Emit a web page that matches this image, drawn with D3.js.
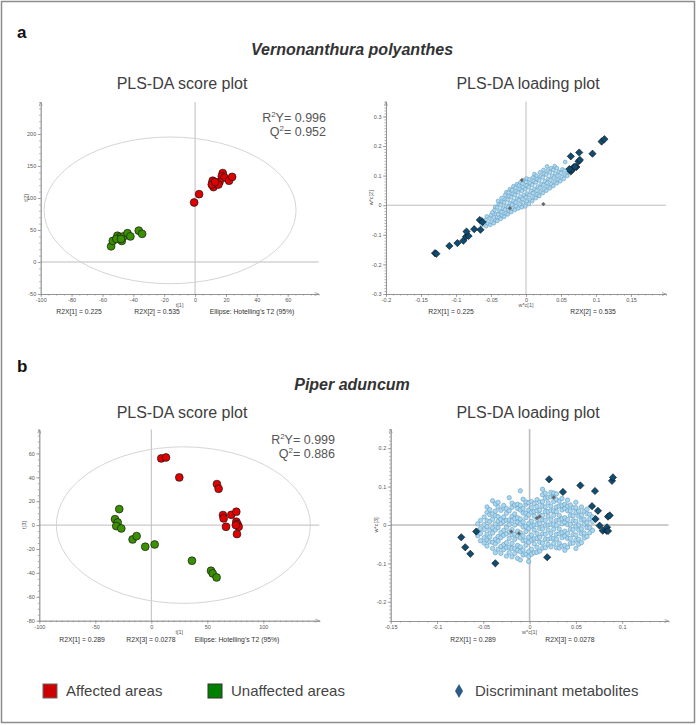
<!DOCTYPE html>
<html>
<head>
<meta charset="utf-8">
<script src="https://cdn.jsdelivr.net/npm/d3@7"></script>
<style>
  body { margin: 0; background: #fff; }
  svg { display: block; }
  text { font-family: "Liberation Sans", Arial, sans-serif; }
</style>
</head>
<body>
<div id="chart"></div>
<script>
// ---- panel a: Vernonanthura polyanthes ----
const affectedA = [[-0.6,93],[2.6,106],[11.2,123],[11.9,117],[11.4,127],[17.9,139],[17.3,134],[19,132],
  [15.8,125],[15.1,121],[22,127],[24,133],[10.8,121],[13,125]]
const unaffectedA = [[-54.4,24.5],[-53.3,33],[-50.3,41],[-48.6,39],[-47.5,33],[-46.4,40],[-43.8,45],
  [-41.9,40],[-36.5,49],[-34.3,44],[-51,36],[-48,36]]
const ellipseA = [-16.2, 80.7, 81.6, 114.6] // cx, cy, rx, ry in score units
const statsA = ['0.996', '0.952']
const r2xScoreA = ['R2X[1] = 0.225', 'R2X[2] = 0.535', "Ellipse: Hotelling's T2 (95%)"]
const r2xLoadA = ['R2X[1] = 0.225', 'R2X[2] = 0.535']

const metabolitesA = [
  [-0.063,-0.066],[-0.061,-0.056],[-0.064,-0.047],
  [-0.057,-0.071],[-0.055,-0.061],[-0.058,-0.05],[-0.056,-0.038],
  [-0.051,-0.066],[-0.049,-0.056],[-0.052,-0.045],[-0.05,-0.034],[-0.048,-0.024],
  [-0.046,-0.061],[-0.044,-0.05],[-0.046,-0.041],[-0.043,-0.03],[-0.045,-0.016],[-0.044,-0.006],
  [-0.041,-0.053],[-0.039,-0.041],[-0.04,-0.031],[-0.038,-0.019],[-0.041,-0.007],[-0.039,0.004],[-0.04,0.014],
  [-0.036,-0.046],[-0.034,-0.035],[-0.035,-0.023],[-0.033,-0.011],[-0.036,0.001],[-0.034,0.012],[-0.035,0.024],
  [-0.031,-0.039],[-0.029,-0.027],[-0.03,-0.015],[-0.028,-0.003],[-0.031,0.009],[-0.029,0.021],[-0.03,0.034],[-0.028,0.044],
  [-0.026,-0.031],[-0.024,-0.019],[-0.025,-0.006],[-0.023,0.007],[-0.026,0.019],[-0.024,0.031],[-0.025,0.043],[-0.023,0.054],
  [-0.021,-0.023],[-0.019,-0.011],[-0.02,0.002],[-0.018,0.014],[-0.021,0.027],[-0.019,0.039],[-0.02,0.051],[-0.018,0.064],
  [-0.016,-0.016],[-0.014,-0.003],[-0.015,0.009],[-0.013,0.023],[-0.016,0.035],[-0.014,0.047],[-0.015,0.059],[-0.013,0.071],
  [-0.011,-0.011],[-0.009,0.003],[-0.01,0.017],[-0.008,0.029],[-0.011,0.043],[-0.009,0.055],[-0.01,0.067],[-0.008,0.077],
  [-0.006,-0.007],[-0.004,0.009],[-0.005,0.021],[-0.003,0.035],[-0.006,0.049],[-0.004,0.061],[-0.005,0.073],[-0.003,0.085],
  [-0.001,-0.004],[0.001,0.013],[0,0.027],[0.002,0.039],[-0.001,0.054],[0.001,0.067],[0,0.079],[0.001,0.09],
  [0.004,0.004],[0.006,0.019],[0.005,0.034],[0.007,0.049],[0.004,0.061],[0.006,0.074],[0.005,0.087],
  [0.009,0.014],[0.011,0.027],[0.01,0.041],[0.012,0.055],[0.009,0.069],[0.011,0.081],[0.01,0.094],[0.012,0.105],
  [0.014,0.024],[0.016,0.037],[0.015,0.049],[0.017,0.063],[0.014,0.077],[0.016,0.089],[0.015,0.1],
  [0.019,0.031],[0.021,0.045],[0.02,0.059],[0.022,0.071],[0.019,0.084],[0.021,0.097],[0.02,0.111],
  [0.024,0.041],[0.026,0.055],[0.025,0.069],[0.027,0.081],[0.024,0.094],[0.026,0.107],[0.025,0.119],
  [0.029,0.049],[0.031,0.063],[0.03,0.075],[0.032,0.089],[0.029,0.103],[0.031,0.117],[0.03,0.131],
  [0.034,0.057],[0.036,0.071],[0.035,0.085],[0.037,0.099],[0.034,0.111],[0.036,0.125],
  [0.039,0.065],[0.041,0.079],[0.04,0.093],[0.042,0.107],[0.039,0.119],[0.041,0.132],
  [0.044,0.074],[0.046,0.087],[0.045,0.099],[0.047,0.113],[0.044,0.125],
  [0.049,0.081],[0.051,0.095],[0.05,0.109],[0.052,0.121],
  [0.054,0.089],[0.056,0.103],[0.055,0.117],[0.056,0.146],
  [0.059,0.099],[0.061,0.111]
]
const discriminantA = [[-0.130,-0.162],[-0.128,-0.164],[-0.1095,-0.1375],[-0.098,-0.128],[-0.0895,-0.12],
  [-0.0857,-0.106],[-0.082,-0.104],[-0.085,-0.089],[-0.074,-0.081],[-0.065,-0.083],[-0.066,-0.05],[-0.062,-0.057],
  [0.064,0.165],[0.076,0.178],[0.064,0.114],[0.068,0.128],[0.066,0.12],[0.072,0.129],[0.075,0.148],
  [0.077,0.153],[0.095,0.174],[0.108,0.215],[0.112,0.223],[0.062,0.122],[0.07,0.13]]
const otherA = [[0.0248,0.004],[-0.006,0.085],[-0.023,-0.01]]

// ---- panel b: Piper aduncum ----
const affectedB = [[8.9,55.8],[13.1,56.6],[25,39.9],[58.6,34.3],[60.1,30.4],[64,8.4],[64.6,5.6],[66.7,-1.4],
  [71.4,8.6],[75.9,11.2],[75.9,2.8],[77,0.8],[78,-1.4],[76.5,-7.5],[75.5,0]]
const unaffectedB = [[-28.6,13.4],[-32.4,5],[-30,2.2],[-31.3,-0.8],[-26.8,-2.8],[-16.7,-12],[-13.1,-9.2],
  [-5.4,-18.1],[3,-16.2],[36.3,-29.8],[53.3,-38.2],[54.8,-40.4],[58.3,-43.8]]
const ellipseB = [28.6, 0, 113.4, 65.5]
const statsB = ['0.999', '0.886']
const r2xScoreB = ['R2X[1] = 0.289', 'R2X[3] = 0.0278', "Ellipse: Hotelling's T2 (95%)"]
const r2xLoadB = ['R2X[1] = 0.289', 'R2X[3] = 0.0278']

// loading columns: [w*c[1], list of w*c[3] values]
const metabolitesB = [
  [-0.056,[-0.028,-0.015,0.003]],
  [-0.053,[-0.041,-0.022,-0.009,0.012]],
  [-0.049,[-0.047,-0.033,-0.012,0.001,0.021]],
  [-0.046,[-0.055,-0.039,-0.024,-0.004,0.011,0.033,0.047]],
  [-0.043,[-0.044,-0.031,-0.013,0.009,0.027,0.04]],
  [-0.04,[-0.061,-0.045,-0.021,-0.008,0.015,0.029,0.063]],
  [-0.037,[-0.072,-0.049,-0.037,-0.013,0.003,0.024,0.036,0.055]],
  [-0.034,[-0.063,-0.042,-0.03,-0.007,0.01,0.022,0.047,0.059]],
  [-0.031,[-0.074,-0.056,-0.033,-0.02,0.004,0.015,0.038]],
  [-0.028,[-0.064,-0.051,-0.027,-0.014,0.009,0.021,0.044,0.051]],
  [-0.025,[-0.081,-0.059,-0.046,-0.023,-0.006,0.012,0.031,0.043]],
  [-0.022,[-0.072,-0.058,-0.035,-0.018,0.001,0.013,0.037,0.071]],
  [-0.019,[-0.083,-0.061,-0.048,-0.025,-0.012,0.011,0.023,0.046,0.057]],
  [-0.016,[-0.074,-0.061,-0.037,-0.024,0,0.017,0.029,0.052]],
  [-0.013,[-0.087,-0.066,-0.053,-0.029,-0.016,0.007,0.019,0.043,0.054]],
  [-0.01,[-0.091,-0.069,-0.057,-0.033,-0.02,0.003,0.016,0.039,0.051,0.089]],
  [-0.007,[-0.078,-0.065,-0.041,-0.028,-0.005,0.008,0.031,0.043,0.067]],
  [-0.004,[-0.076,-0.053,-0.04,-0.017,-0.004,0.019,0.031,0.054,0.06]],
  [-0.001,[-0.095,-0.082,-0.069,-0.045,-0.032,-0.009,0.004,0.027,0.039,0.058]],
  [0.002,[-0.076,-0.063,-0.039,-0.026,-0.003,0.01,0.033,0.045,0.061]],
  [0.005,[-0.072,-0.049,-0.036,-0.013,0,0.023,0.035,0.056]],
  [0.008,[-0.071,-0.058,-0.035,-0.022,0.001,0.014,0.037,0.048,0.066]],
  [0.011,[-0.068,-0.045,-0.032,-0.009,0.004,0.027,0.039,0.06]],
  [0.014,[-0.06,-0.047,-0.023,-0.01,0.013,0.025,0.049,0.061,0.079,0.093]],
  [0.017,[-0.059,-0.037,-0.024,-0.001,0.012,0.035,0.047,0.07,0.083]],
  [0.02,[-0.05,-0.037,-0.013,0,0.023,0.035,0.058,0.072]],
  [0.023,[-0.057,-0.035,-0.022,0.001,0.014,0.037,0.049,0.073,0.085]],
  [0.026,[-0.048,-0.035,-0.011,0.002,0.025,0.037,0.061,0.074,0.083]],
  [0.029,[-0.059,-0.037,-0.024,-0.001,0.012,0.035,0.047,0.066,0.081]],
  [0.032,[-0.06,-0.047,-0.023,-0.01,0.013,0.025,0.049,0.062]],
  [0.035,[-0.055,-0.033,-0.02,0.003,0.016,0.039,0.051,0.069]],
  [0.038,[-0.066,-0.053,-0.029,-0.016,0.007,0.019,0.043,0.054]],
  [0.041,[-0.058,-0.035,-0.022,0.001,0.014,0.037,0.049,0.065]],
  [0.044,[-0.048,-0.035,-0.011,0.002,0.025,0.037,0.052]],
  [0.047,[-0.047,-0.025,-0.012,0.011,0.024,0.045]],
  [0.05,[-0.061,-0.039,-0.026,-0.003,0.01,0.033,0.045,0.059]],
  [0.053,[-0.05,-0.037,-0.013,0,0.023,0.036]],
  [0.056,[-0.046,-0.023,-0.01,0.013,0.026,0.047]],
  [0.059,[-0.034,-0.021,0.002,0.015,0.036]],
  [0.062,[-0.03,-0.007,0.006,0.029,0.041]],
  [0.065,[-0.02,-0.007,0.016,0.028]],
  [0.068,[-0.014,0.009,0.021]]
]
const discriminantB = [[-0.0738,-0.032],[-0.0695,-0.058],[-0.064,-0.075],[-0.0576,-0.017],[-0.037,-0.0997],
  [0.019,-0.084],[0.021,0.119],[0.036,0.086],[0.0548,0.103],[0.0706,0.0885],[0.0674,0.049],[0.0738,0.037],
  [0.0713,0.0156],[0.0756,-0.0017],[0.079,-0.0147],[0.083,-0.0147],[0.0836,-0.006],[0.0847,0.0217],
  [0.0865,0.025],[0.0847,-0.0156],[0.089,0.115],[0.09,0.124]]
const otherB = [[0.0108,0.0217],[0.008,0.018],[-0.0115,-0.022],[-0.0198,-0.017],[0.026,0.072]]

// tick labels
const scoreTicksAx = [-100, -80, -60, -40, -20, 0, 20, 40, 60]
const scoreTicksAy = [-50, 0, 50, 100, 150, 200]
const loadTicksAx = [-0.2, -0.15, -0.1, -0.05, 0, 0.05, 0.1, 0.15]
const loadTicksAy = [-0.3, -0.2, -0.1, 0, 0.1, 0.2, 0.3]
const scoreTicksBx = [-100, -50, 0, 50, 100]
const scoreTicksBy = [-80, -60, -40, -20, 0, 20, 40, 60]
const loadTicksBx = [-0.15, -0.1, -0.05, 0, 0.05, 0.1]
const loadTicksBy = [-0.2, -0.1, 0, 0.1, 0.2]

const legendItems = ['Affected areas', 'Unaffected areas', 'Discriminant metabolites']

const RED = '#e00000', GREEN = '#3a9000', LIGHT = '#a9d8f1', DARK = '#0d4c73'

const svg = d3.select('#chart').append('svg')
  .attr('width', 697)
  .attr('height', 725)

svg.append('rect')
  .attr('x', 1.5).attr('y', 1.5).attr('width', 693).attr('height', 721)
  .attr('fill', '#fff').attr('stroke', '#8c8c8c').attr('stroke-width', 1.5)

function drawAxes(g, x, y, cfg) {
  const [xl, xr] = x.range()
  const [yb, yt] = y.range()
  const fmt = d => String(d)

  // zero lines
  g.append('line').attr('x1', x(0)).attr('x2', x(0)).attr('y1', yt).attr('y2', yb)
    .attr('stroke', '#bdbdbd').attr('stroke-width', cfg.zeroWidth || 1)
  g.append('line').attr('x1', xl).attr('x2', xr).attr('y1', y(0)).attr('y2', y(0))
    .attr('stroke', '#bdbdbd').attr('stroke-width', cfg.zeroWidth || 1)

  const minorX = g.append('g').attr('transform', `translate(0,${yb})`)
    .call(d3.axisBottom(x).tickValues(x.ticks(cfg.minorX)).tickSize(1.5).tickSizeOuter(0).tickFormat(''))
  const minorY = g.append('g').attr('transform', `translate(${xl},0)`)
    .call(d3.axisLeft(y).tickValues(y.ticks(cfg.minorY)).tickSize(1.5).tickSizeOuter(0).tickFormat(''))
  const ax = g.append('g').attr('transform', `translate(0,${yb})`)
    .call(d3.axisBottom(x).tickValues(cfg.xTicks).tickSize(3).tickSizeOuter(0).tickPadding(1).tickFormat(fmt))
  const ay = g.append('g').attr('transform', `translate(${xl},0)`)
    .call(d3.axisLeft(y).tickValues(cfg.yTicks).tickSize(3).tickSizeOuter(0).tickPadding(1.5).tickFormat(fmt))

  for (const a of [minorX, minorY, ax, ay]) {
    a.selectAll('path, line').attr('stroke', '#8a8a8a').attr('stroke-width', 0.7)
    a.selectAll('text').attr('font-size', 5.5).attr('fill', '#555')
      .attr('font-family', '"Liberation Sans", Arial, sans-serif')
  }

  // small arrow heads at the axis ends
  g.append('path').attr('d', `M${xr - 4},${yb - 1.5}L${xr},${yb}L${xr - 4},${yb + 1.5}`)
    .attr('fill', 'none').attr('stroke', '#8a8a8a').attr('stroke-width', 0.7)
  g.append('path').attr('d', `M${xl - 1.5},${yt + 4}L${xl},${yt}L${xl + 1.5},${yt + 4}`)
    .attr('fill', 'none').attr('stroke', '#8a8a8a').attr('stroke-width', 0.7)

  g.append('text').attr('x', (xl + xr) / 2).attr('y', yb + 13)
    .attr('text-anchor', 'middle').attr('font-size', 5.5).attr('fill', '#555').text(cfg.xLabel)
  g.append('text')
    .attr('transform', `translate(${xl - 13},${(yb + yt) / 2}) rotate(-90)`)
    .attr('text-anchor', 'middle').attr('font-size', 5.5).attr('fill', '#555').text(cfg.yLabel)
}

function footer(g, items, xs, yPos) {
  items.forEach((t, i) => {
    g.append('text').attr('x', xs[i]).attr('y', yPos).attr('text-anchor', 'middle')
      .attr('font-size', 6.8).attr('fill', '#333').text(t)
  })
}

function scorePlot(cfg) {
  const g = svg.append('g')
  const x = d3.scaleLinear().domain(cfg.xDomain).range([cfg.left, cfg.right])
  const y = d3.scaleLinear().domain(cfg.yDomain).range([cfg.bottom, cfg.top])
  drawAxes(g, x, y, cfg)

  const [cx, cy, rx, ry] = cfg.ellipse
  g.append('ellipse')
    .attr('cx', x(cx)).attr('cy', y(cy))
    .attr('rx', x(cx + rx) - x(cx)).attr('ry', y(cy) - y(cy + ry))
    .attr('fill', 'none').attr('stroke', '#cacaca').attr('stroke-width', 0.8)

  const groups = [[cfg.unaffected, GREEN], [cfg.affected, RED]]
  for (const [data, col] of groups) {
    g.append('g').selectAll('circle')
      .data(data)
      .enter().append('circle')
        .attr('cx', d => x(d[0]))
        .attr('cy', d => y(d[1]))
        .attr('r', 3.9)
        .attr('fill', col)
        .attr('stroke', '#1a1a1a')
        .attr('stroke-width', 0.7)
  }

  const st = g.append('text').attr('x', cfg.statX).attr('y', cfg.statY)
    .attr('text-anchor', 'end').attr('font-size', 12.5).attr('fill', '#555')
  st.append('tspan').text('R')
  st.append('tspan').attr('font-size', 8).attr('dy', -4.5).text('2')
  st.append('tspan').attr('dy', 4.5).text('Y= ' + cfg.stats[0])
  const sq = g.append('text').attr('x', cfg.statX).attr('y', cfg.statY + 14)
    .attr('text-anchor', 'end').attr('font-size', 12.5).attr('fill', '#555')
  sq.append('tspan').text('Q')
  sq.append('tspan').attr('font-size', 8).attr('dy', -4.5).text('2')
  sq.append('tspan').attr('dy', 4.5).text('= ' + cfg.stats[1])

  footer(g, cfg.footer, cfg.footerX, cfg.footerY)
}

function loadingPlot(cfg) {
  const g = svg.append('g')
  const x = d3.scaleLinear().domain(cfg.xDomain).range([cfg.left, cfg.right])
  const y = d3.scaleLinear().domain(cfg.yDomain).range([cfg.bottom, cfg.top])
  drawAxes(g, x, y, cfg)

  g.append('g').selectAll('circle')
    .data(cfg.metabolites)
    .enter().append('circle')
      .attr('cx', d => x(d[0]))
      .attr('cy', d => y(d[1]))
      .attr('r', cfg.dotR)
      .attr('fill', LIGHT)
      .attr('stroke', '#5f95b8')
      .attr('stroke-width', 0.55)

  g.append('g').selectAll('path')
    .data(cfg.other)
    .enter().append('path')
      .attr('d', d3.symbol(d3.symbolSquare, 9))
      .attr('transform', d => `translate(${x(d[0])},${y(d[1])}) rotate(45)`)
      .attr('fill', '#666')

  g.append('g').selectAll('path')
    .data(cfg.discriminant)
    .enter().append('path')
      .attr('d', d3.symbol(d3.symbolSquare, 26))
      .attr('transform', d => `translate(${x(d[0])},${y(d[1])}) rotate(45)`)
      .attr('fill', DARK)
      .attr('stroke', '#111')
      .attr('stroke-width', 0.6)

  footer(g, cfg.footer, cfg.footerX, cfg.footerY)
}

function heading(letter, species, yLetter, ySpecies, yTitle) {
  svg.append('text').attr('x', 17).attr('y', yLetter)
    .attr('font-size', 17).attr('font-weight', 'bold').attr('fill', '#111').text(letter)
  svg.append('text').attr('x', 352).attr('y', ySpecies).attr('text-anchor', 'middle')
    .attr('font-size', 16).attr('font-weight', 'bold').attr('font-style', 'italic')
    .attr('fill', '#333').text(species)
  svg.append('text').attr('x', 182).attr('y', yTitle).attr('text-anchor', 'middle')
    .attr('font-size', 16).attr('fill', '#404040').text('PLS-DA score plot')
  svg.append('text').attr('x', 528).attr('y', yTitle).attr('text-anchor', 'middle')
    .attr('font-size', 16).attr('fill', '#404040').text('PLS-DA loading plot')
}

heading('a', 'Vernonanthura polyanthes', 38, 55, 89)
heading('b', 'Piper aduncum', 372, 390, 418)

scorePlot({
  xDomain: [-100, 80], yDomain: [-50, 250], left: 40.7, right: 318.6, bottom: 294, top: 102,
  xTicks: scoreTicksAx, yTicks: scoreTicksAy, minorX: 36, minorY: 30,
  xLabel: 't[1]', yLabel: 't[2]',
  ellipse: ellipseA, affected: affectedA, unaffected: unaffectedA,
  stats: statsA, statX: 326, statY: 121.5,
  footer: r2xScoreA, footerX: [79, 157, 252], footerY: 314
})

loadingPlot({
  xDomain: [-0.2, 0.2], yDomain: [-0.3, 0.35], left: 386, right: 666, bottom: 294, top: 101.6,
  xTicks: loadTicksAx, yTicks: loadTicksAy, minorX: 40, minorY: 65, dotR: 1.9,
  xLabel: 'w*c[1]', yLabel: 'w*c[2]',
  metabolites: metabolitesA, discriminant: discriminantA, other: otherA,
  footer: r2xLoadA, footerX: [451, 593], footerY: 314
})

scorePlot({
  xDomain: [-100, 150], yDomain: [-80, 80], left: 39.3, right: 319.3, bottom: 620.7, top: 429.5,
  xTicks: scoreTicksBx, yTicks: scoreTicksBy, minorX: 50, minorY: 32,
  xLabel: 't[1]', yLabel: 't[3]',
  ellipse: ellipseB, affected: affectedB, unaffected: unaffectedB,
  stats: statsB, statX: 335, statY: 443.5,
  footer: r2xScoreB, footerX: [82, 151, 237], footerY: 642
})

loadingPlot({
  xDomain: [-0.15, 0.15], yDomain: [-0.25, 0.25], left: 390.7, right: 668.5, bottom: 621, top: 429,
  xTicks: loadTicksBx, yTicks: loadTicksBy, minorX: 30, minorY: 50, zeroWidth: 1.6, dotR: 2.2,
  xLabel: 'w*c[1]', yLabel: 'w*c[3]',
  metabolites: metabolitesB.flatMap(([wx, ys]) => ys.map(wy => [wx, wy])),
  discriminant: discriminantB, other: otherB,
  footer: r2xLoadB, footerX: [473, 570], footerY: 642
})

// legend
const legend = svg.append('g').attr('transform', 'translate(0,696)')
legend.append('rect').attr('x', 43).attr('y', -12).attr('width', 14).attr('height', 14)
  .attr('fill', '#cc0000').attr('stroke', '#666').attr('stroke-width', 1)
legend.append('text').attr('x', 66).attr('y', 0).attr('font-size', 15).attr('fill', '#444').text(legendItems[0])
legend.append('rect').attr('x', 208).attr('y', -12).attr('width', 14).attr('height', 14)
  .attr('fill', '#008000').attr('stroke', '#333').attr('stroke-width', 1)
legend.append('text').attr('x', 231).attr('y', 0).attr('font-size', 15).attr('fill', '#444').text(legendItems[1])
legend.append('path').attr('d', d3.symbol(d3.symbolDiamond, 55))
  .attr('transform', 'translate(459,-5)').attr('fill', '#2d5b87')
legend.append('text').attr('x', 475).attr('y', 0).attr('font-size', 15).attr('fill', '#444').text(legendItems[2])
</script>
</body>
</html>
